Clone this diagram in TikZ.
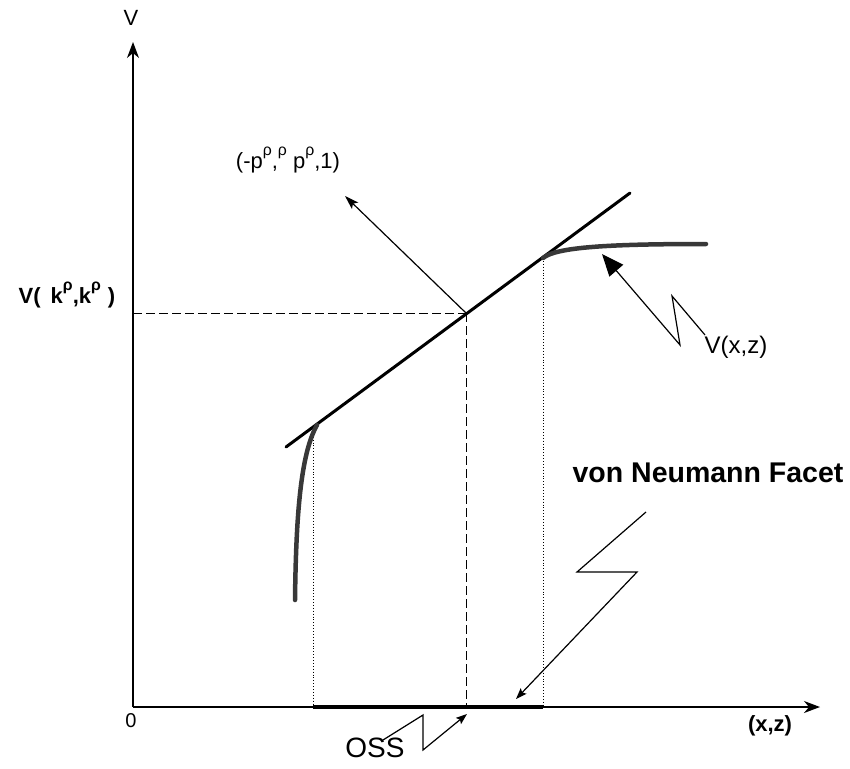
\documentclass[tikz,border=0pt]{standalone}
\usepackage{fontspec}
\setmainfont{Liberation Sans}
\usetikzlibrary{arrows.meta}
\newcommand{\suprho}{\raisebox{0.6em}{\scalebox{0.72}{ρ}}}
\begin{document}
\begin{tikzpicture}[x=1pt,y=-1pt,
  axis/.style={line width=1.3pt,-{Stealth[length=16pt,width=12pt,inset=5pt]}},
  thin arrow/.style={line width=1.2pt,-{Stealth[length=14pt,width=9pt,inset=3pt]}},
  small arrow/.style={line width=1.2pt,-{Stealth[length=11pt,width=8pt,inset=2pt]}},
  big arrow/.style={line width=1.2pt,-{Triangle[length=22pt,width=18pt]}},
  curve/.style={line width=4.5pt,draw=black!78,line cap=round},
  guide dotted/.style={line width=0.9pt,dotted},
  guide dashed/.style={line width=0.9pt,dash pattern=on 9pt off 4pt},
  lbl/.style={inner sep=0pt,anchor=center}
]
\useasboundingbox (0,0) rectangle (850,768);
% axes
\coordinate (O) at (133,707);
\coordinate (ytip) at (133,42);
\coordinate (xtip) at (820,707);
\draw[axis] (O) -- (ytip);
\draw[axis] (O) -- (xtip);
\node[lbl,font=\fontsize{22}{24}\selectfont] (Vlab) at (131,18) {V};
\node[lbl,font=\fontsize{20}{22}\selectfont] (zero) at (131,721) {0};
\node[lbl,font=\bfseries\fontsize{22}{24}\selectfont] (xzlab) at (770,726) {(x,z)};
% tangent line
\coordinate (T1) at (286,447);
\coordinate (T2) at (630,193);
\draw[line width=3pt,line cap=round] (T1) -- (T2);
\coordinate (P) at (466,313);
\coordinate (L) at (317,425);
\coordinate (R) at (543,258);
% guides
\coordinate (Py) at (133,313);
\coordinate (Px) at (466,707);
\coordinate (Lx) at (313,707);
\coordinate (Rx) at (543,707);
\draw[guide dashed] (Py) -- (P);
\draw[guide dashed] (P) -- (Px);
\draw[guide dotted] (313,428) -- (Lx);
\draw[guide dotted] (R) -- (Rx);
% OSS segment
\draw[line width=4pt] (Lx) -- (Rx);
% curves
\coordinate (Lb) at (295,600);
\coordinate (Re) at (706,244);
\draw[curve] (Lb) .. controls (296,520) and (300,455) .. (L);
\draw[curve] (R) .. controls (556,247) and (610,244) .. (Re);
% normal arrow
\coordinate (N) at (345,196);
\draw[thin arrow] (P) -- (N);
\node[lbl,font=\fontsize{22}{24}\selectfont] (nlab) at (288,160) {(-p\suprho,\suprho\ p\suprho,1)};
% V(k,k) label
\node[lbl,font=\bfseries\fontsize{22}{24}\selectfont] (Vk) at (67,295) {V(\hspace{10pt}k\suprho,k\suprho\hspace{7pt})};
% V(x,z) label and zigzag
\node[lbl,font=\fontsize{24}{26}\selectfont] (Vxz) at (736,347) {V(x,z)};
\coordinate (z1) at (705,335);
\coordinate (z2) at (672,296);
\coordinate (z3) at (680,345);
\coordinate (Vtip) at (602,254);
\draw[big arrow] (z1) -- (z2) -- (z3) -- (Vtip);
% von Neumann facet
\node[lbl,font=\bfseries\fontsize{28.5}{30}\selectfont] (vN) at (708,473) {von Neumann Facet};
\coordinate (f1) at (646,512);
\coordinate (f2) at (577,572);
\coordinate (f3) at (637,572);
\coordinate (ftip) at (516,699);
\draw[small arrow] (f1) -- (f2) -- (f3) -- (ftip);
% OSS
\node[lbl,font=\fontsize{28}{30}\selectfont] (OSS) at (375,748) {OSS};
\coordinate (o1) at (383,740);
\coordinate (o2) at (423,715);
\coordinate (o3) at (423,750);
\coordinate (otip) at (467,714);
\draw[small arrow] (o1) -- (o2) -- (o3) -- (otip);
\end{tikzpicture}
\end{document}
